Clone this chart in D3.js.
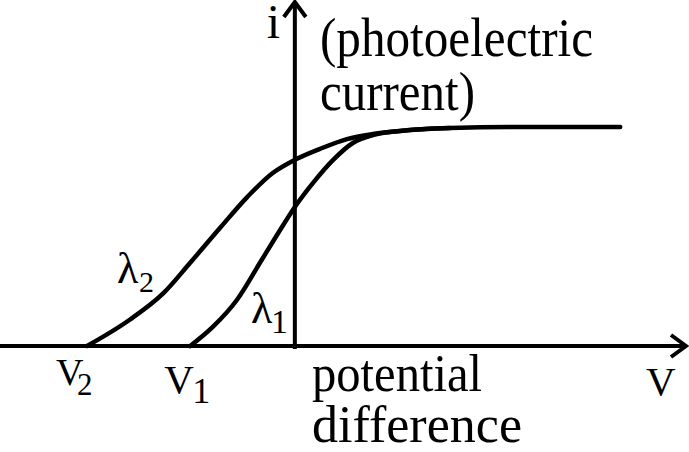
<!DOCTYPE html>
<html><head><meta charset="utf-8"><script src="https://cdn.jsdelivr.net/npm/d3@7"></script></head>
<body style="margin:0">
<svg id="chart" width="689" height="452"></svg>
<script>
// curve data (V in arbitrary volts, i relative to saturation)
const lambda2V = [-4.23, -3.36, -2.68, -2.13, -1.52, -0.97, -0.45, 0, 0.51, 1.06, 1.59, 2.14, 3.16, 4.58, 6.62];
const lambda2I = [0, 0.12, 0.24, 0.38, 0.54, 0.68, 0.79, 0.85, 0.90, 0.945, 0.968, 0.982, 0.995, 1.0, 1.0];

const lambda1V = [-2.13, -1.67, -1.18, -0.71, -0.30, 0, 0.37, 0.78, 1.18, 1.59, 2.14, 3.16];
const lambda1I = [0, 0.087, 0.21, 0.38, 0.53, 0.635, 0.745, 0.85, 0.927, 0.963, 0.982, 0.995];

// stopping potentials (where each curve leaves the axis)
const stopV2 = -4.23;
const stopV1 = -2.13;

const svg = d3.select('#chart');

// create scales
const xScale = d3.scaleLinear()
  .domain([-6, 8])
  .range([0, 688]);

const yScale = d3.scaleLinear()
  .domain([0, 1.58])
  .range([346, 0]);

const x0 = xScale(0);
const y0 = yScale(0);

// text first, in the serif face
function addText(x, y, size, str, len) {
  const t = svg.append('text')
    .attr('x', x).attr('y', y)
    .style('font-family', "'Liberation Serif'")
    .style('font-size', size + 'px')
    .text(str);
  if (len) t.attr('textLength', len).attr('lengthAdjust', 'spacingAndGlyphs');
  return t;
}

// label + subscript
function label(x, y, main, size, sub, subSize, dx, dy) {
  addText(x, y, size, main);
  addText(x + dx, y + dy, subSize, sub);
}

// axis labels
addText(x0 - 28, 38, 48, 'i');
addText(320, 56, 54, '(photoelectric', 273);
addText(320, 110, 54, 'current)', 155);
addText(312, 391, 52, 'potential', 170);
addText(312, 442, 52, 'difference', 210);
addText(646, 395, 41, 'V');

// stopping potential labels
label(xScale(stopV2) - 31, 385, 'V', 38, '2', 31, 21, 10);
label(xScale(stopV1) - 26, 393, 'V', 41, '1', 36, 28, 10);

// wavelength labels
label(117, 283, 'λ', 44, '2', 30, 22, 9);
label(251, 323, 'λ', 44, '1', 34, 20, 10);

// axes with arrowheads
svg.append('line')
  .attr('x1', 0).attr('x2', 686)
  .attr('y1', y0).attr('y2', y0)
  .attr('stroke', '#000').attr('stroke-width', 4);

svg.append('path')
  .attr('d', `M671,${y0 - 11} L686,${y0} L671,${y0 + 11}`)
  .attr('fill', 'none').attr('stroke', '#000').attr('stroke-width', 4);

svg.append('line')
  .attr('x1', x0).attr('x2', x0)
  .attr('y1', 3).attr('y2', y0 + 3)
  .attr('stroke', '#000').attr('stroke-width', 4);

svg.append('path')
  .attr('d', `M${x0 - 11},17 L${x0},2 L${x0 + 11},17`)
  .attr('fill', 'none').attr('stroke', '#000').attr('stroke-width', 4);

// draw the curves
const line = d3.line()
  .x(d => xScale(d[0]))
  .y(d => yScale(d[1]))
  .curve(d3.curveMonotoneX);

const series = [
  d3.zip(lambda2V, lambda2I),
  d3.zip(lambda1V, lambda1I)
];

svg.selectAll('.curve')
  .data(series)
  .enter()
  .append('path')
  .attr('class', 'curve')
  .attr('d', line)
  .attr('fill', 'none')
  .attr('stroke', '#000')
  .attr('stroke-width', 4.5)
  .attr('stroke-linecap', 'round');
</script>
</body></html>
